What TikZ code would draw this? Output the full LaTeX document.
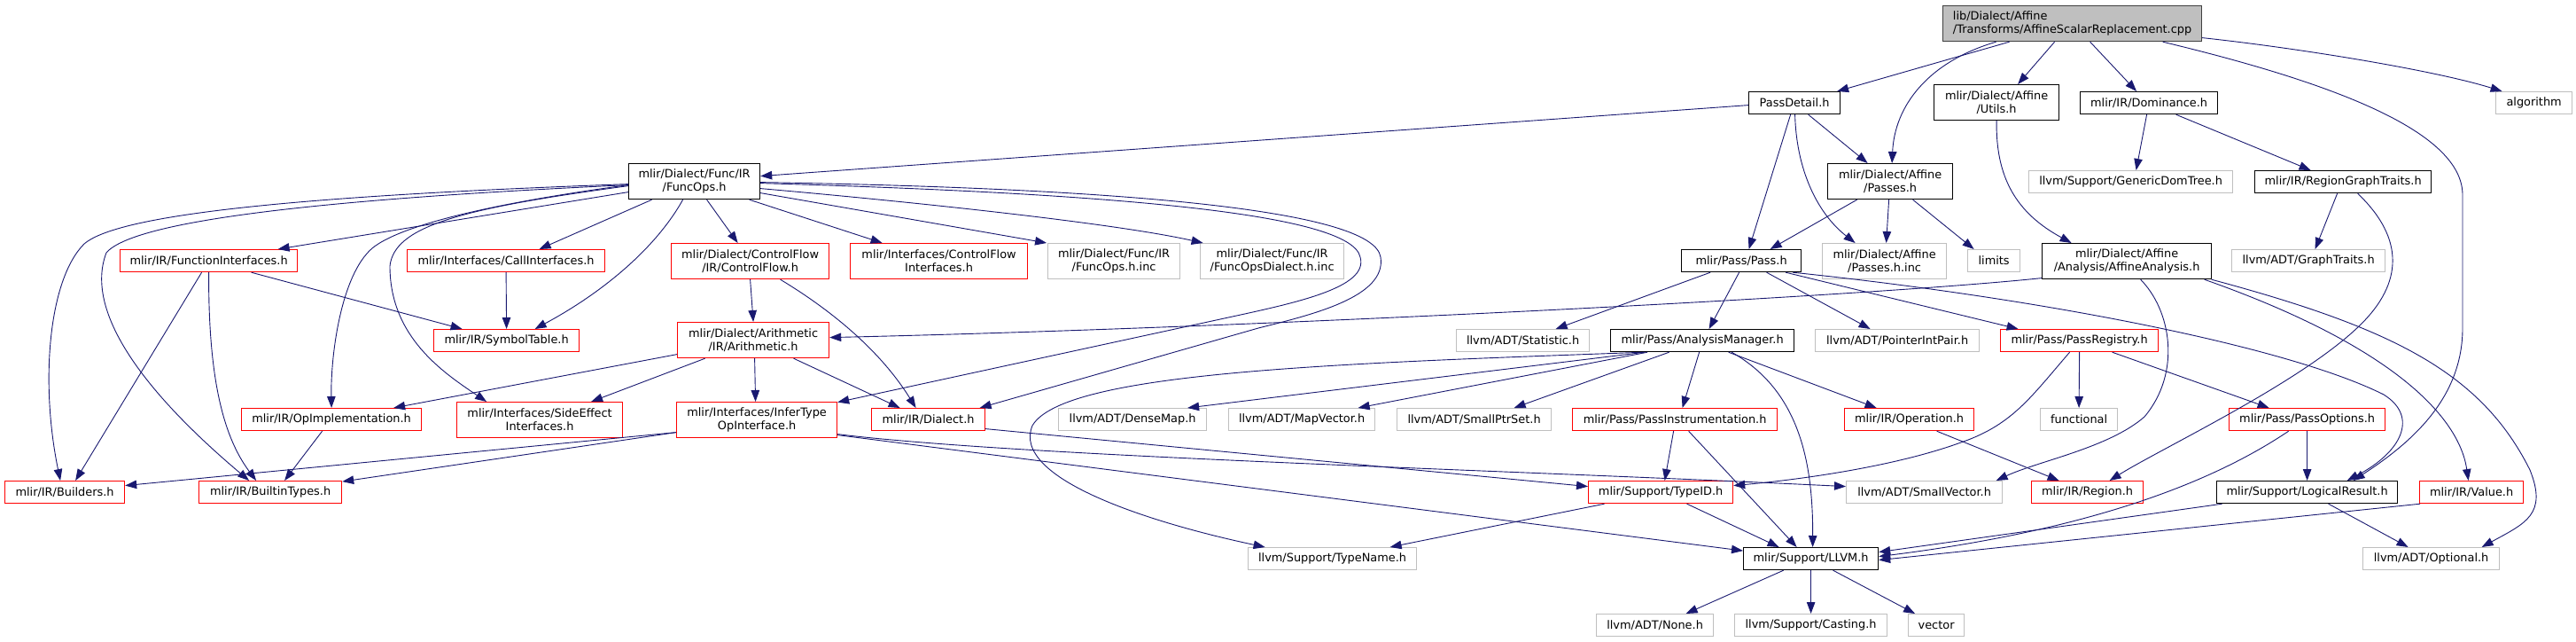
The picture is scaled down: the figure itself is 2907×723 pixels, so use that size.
\documentclass[tikz,border=0pt]{standalone}
\usepackage{fontspec}
\setmainfont{DejaVu Sans}
\usetikzlibrary{arrows.meta}
\definecolor{edgeblue}{HTML}{191970}
\definecolor{grayline}{HTML}{BFBFBF}
\definecolor{rootfill}{HTML}{BFBFBF}
\definecolor{redline}{HTML}{FF0000}
\newcommand{\nodefnt}{\fontsize{12.9}{15}\selectfont}
\tikzset{
  nd/.style={draw, line width=1.2pt, inner sep=0pt, font=\nodefnt, align=center, anchor=north west, text=black},
  blk/.style={nd, draw=black},
  rootbox/.style={nd, draw=black!75, fill=rootfill, align=left},
  rdn/.style={nd, draw=redline},
  gry/.style={nd, draw=grayline},
  e/.style={draw=edgeblue, line width=0.9pt, -{Triangle[length=13pt,width=9.5pt]}}
}
\begin{document}
\begin{tikzpicture}[x=1pt,y=-1pt]
\useasboundingbox (0,0) rectangle (2907,723);
% nodes
\node[rootbox, minimum width=292pt, minimum height=40pt] (root) at (2192,6) {lib/Dialect/Affine\\/Transforms/AffineScalarReplacement.cpp};
\node[blk, minimum width=103pt, minimum height=25pt] (pd) at (1973,103) {PassDetail.h};
\node[blk, minimum width=141pt, minimum height=40pt] (utils) at (2182,95) {mlir/Dialect/Affine\\/Utils.h};
\node[blk, minimum width=155pt, minimum height=25pt] (dom) at (2347,103) {mlir/IR/Dominance.h};
\node[gry, minimum width=86pt, minimum height=25pt] (algo) at (2816,103) {algorithm};
\node[blk, minimum width=148pt, minimum height=40pt] (funcops) at (709,184) {mlir/Dialect/Func/IR\\/FuncOps.h};
\node[blk, minimum width=141pt, minimum height=40pt] (passes) at (2062,184) {mlir/Dialect/Affine\\/Passes.h};
\node[gry, minimum width=230pt, minimum height=25pt] (gdt) at (2289,192) {llvm/Support/GenericDomTree.h};
\node[blk, minimum width=199pt, minimum height=25pt] (rgt) at (2544,192) {mlir/IR/RegionGraphTraits.h};
\node[rdn, minimum width=200pt, minimum height=25pt] (fi) at (135,281) {mlir/IR/FunctionInterfaces.h};
\node[rdn, minimum width=223pt, minimum height=25pt] (ci) at (459,281) {mlir/Interfaces/CallInterfaces.h};
\node[rdn, minimum width=178pt, minimum height=40pt] (cf) at (757,274) {mlir/Dialect/ControlFlow\\/IR/ControlFlow.h};
\node[rdn, minimum width=200pt, minimum height=40pt] (cfi) at (959,274) {mlir/Interfaces/ControlFlow\\Interfaces.h};
\node[gry, minimum width=149pt, minimum height=40pt] (finc) at (1182,274) {mlir/Dialect/Func/IR\\/FuncOps.h.inc};
\node[gry, minimum width=162pt, minimum height=40pt] (fdinc) at (1354,274) {mlir/Dialect/Func/IR\\/FuncOpsDialect.h.inc};
\node[blk, minimum width=135pt, minimum height=25pt] (pass) at (1897,281) {mlir/Pass/Pass.h};
\node[gry, minimum width=140pt, minimum height=40pt] (pinc) at (2056,274) {mlir/Dialect/Affine\\/Passes.h.inc};
\node[gry, minimum width=59pt, minimum height=25pt] (limits) at (2220,281) {limits};
\node[blk, minimum width=191pt, minimum height=40pt] (aa) at (2304,274) {mlir/Dialect/Affine\\/Analysis/AffineAnalysis.h};
\node[gry, minimum width=173pt, minimum height=25pt] (gt) at (2518,281) {llvm/ADT/GraphTraits.h};
\node[rdn, minimum width=171pt, minimum height=40pt] (arith) at (764,363) {mlir/Dialect/Arithmetic\\/IR/Arithmetic.h};
\node[rdn, minimum width=164pt, minimum height=25pt] (st) at (489,371) {mlir/IR/SymbolTable.h};
\node[gry, minimum width=150pt, minimum height=25pt] (stat) at (1643,371) {llvm/ADT/Statistic.h};
\node[blk, minimum width=207pt, minimum height=25pt] (am) at (1817,371) {mlir/Pass/AnalysisManager.h};
\node[gry, minimum width=185pt, minimum height=25pt] (pip) at (2048,371) {llvm/ADT/PointerIntPair.h};
\node[rdn, minimum width=178pt, minimum height=25pt] (preg) at (2257,371) {mlir/Pass/PassRegistry.h};
\node[rdn, minimum width=203pt, minimum height=25pt] (opi) at (272,460) {mlir/IR/OpImplementation.h};
\node[rdn, minimum width=187pt, minimum height=40pt] (se) at (515,453) {mlir/Interfaces/SideEffect\\Interfaces.h};
\node[rdn, minimum width=181pt, minimum height=40pt] (it) at (763,453) {mlir/Interfaces/InferType\\OpInterface.h};
\node[rdn, minimum width=128pt, minimum height=25pt] (dia) at (983,460) {mlir/IR/Dialect.h};
\node[gry, minimum width=167pt, minimum height=25pt] (dm) at (1194,460) {llvm/ADT/DenseMap.h};
\node[gry, minimum width=165pt, minimum height=25pt] (mv) at (1386,460) {llvm/ADT/MapVector.h};
\node[gry, minimum width=174pt, minimum height=25pt] (sps) at (1576,460) {llvm/ADT/SmallPtrSet.h};
\node[rdn, minimum width=231pt, minimum height=25pt] (pi) at (1774,460) {mlir/Pass/PassInstrumentation.h};
\node[rdn, minimum width=146pt, minimum height=25pt] (op) at (2081,460) {mlir/IR/Operation.h};
\node[gry, minimum width=87pt, minimum height=25pt] (func) at (2302,460) {functional};
\node[rdn, minimum width=176pt, minimum height=25pt] (popt) at (2515,460) {mlir/Pass/PassOptions.h};
\node[rdn, minimum width=135pt, minimum height=25pt] (bld) at (5,542) {mlir/IR/Builders.h};
\node[rdn, minimum width=161pt, minimum height=25pt] (bt) at (224,542) {mlir/IR/BuiltinTypes.h};
\node[rdn, minimum width=163pt, minimum height=25pt] (tid) at (1792,542) {mlir/Support/TypeID.h};
\node[gry, minimum width=176pt, minimum height=25pt] (sv) at (2083,542) {llvm/ADT/SmallVector.h};
\node[rdn, minimum width=126pt, minimum height=25pt] (reg) at (2292,542) {mlir/IR/Region.h};
\node[blk, minimum width=204pt, minimum height=25pt] (lr) at (2501,542) {mlir/Support/LogicalResult.h};
\node[rdn, minimum width=117pt, minimum height=25pt] (val) at (2730,542) {mlir/IR/Value.h};
\node[gry, minimum width=190pt, minimum height=25pt] (tn) at (1408,617) {llvm/Support/TypeName.h};
\node[blk, minimum width=152pt, minimum height=25pt] (llvm) at (1967,617) {mlir/Support/LLVM.h};
\node[gry, minimum width=154pt, minimum height=25pt] (opt) at (2666,617) {llvm/ADT/Optional.h};
\node[gry, minimum width=132pt, minimum height=25pt] (none) at (1801,692) {llvm/ADT/None.h};
\node[gry, minimum width=172pt, minimum height=25pt] (cast) at (1957,692) {llvm/Support/Casting.h};
\node[gry, minimum width=63pt, minimum height=25pt] (vec) at (2153,692) {vector};
% root edges
\draw[e] ([xshift=-71pt]root.south) -- ([xshift=48pt]pd.north);
\draw[e] ([xshift=-86pt]root.south) .. controls (2175,70) and (2138,120) .. ([xshift=2pt]passes.north);
\draw[e] ([xshift=-20pt]root.south) -- ([xshift=24pt]utils.north);
\draw[e] ([xshift=20pt]root.south) -- ([xshift=-14pt]dom.north);
\draw[e] ([yshift=-16pt]root.east) .. controls (2600,55) and (2750,80) .. ([xshift=-36pt]algo.north);
\draw[e] ([xshift=102pt]root.south) .. controls (2640,95) and (2779,150) .. (2779,220) -- (2779,370) .. controls (2779,450) and (2720,500) .. ([xshift=52pt]lr.north);
% PassDetail
\draw[e] ([yshift=-2.5pt]pd.west) -- ([yshift=6pt]funcops.east);
\draw[e] ([xshift=15.5pt]pd.south) -- ([xshift=-25.5pt]passes.north);
\draw[e] ([xshift=-4.5pt]pd.south) -- ([xshift=8.5pt]pass.north);
\draw[e] ([xshift=0.5pt]pd.south) .. controls (2027,190) and (2050,240) .. ([xshift=-33pt]pinc.north);
% Passes.h
\draw[e] ([xshift=-37.5pt]passes.south) -- ([xshift=32.5pt]pass.north);
\draw[e] ([xshift=-1.5pt]passes.south) -- ([xshift=2pt]pinc.north);
\draw[e] ([xshift=25.5pt]passes.south) -- ([xshift=-22.5pt]limits.north);
% Utils, Dominance, RegionGraphTraits
\draw[e] (utils.south) .. controls (2252,200) and (2275,240) .. ([xshift=-62.5pt]aa.north);
\draw[e] ([xshift=-2.5pt]dom.south) -- ([xshift=6pt]gdt.north);
\draw[e] ([xshift=30.5pt]dom.south) -- ([xshift=-36.5pt]rgt.north);
\draw[e] ([xshift=-6.5pt]rgt.south) -- ([xshift=7.5pt]gt.north);
\draw[e] ([xshift=16.5pt]rgt.south) .. controls (2715,270) and (2710,320) .. (2665,365) .. controls (2600,430) and (2440,505) .. ([xshift=25pt]reg.north);
% AffineAnalysis
\draw[e] ([yshift=-19pt]aa.west) .. controls (2100,335) and (1400,370) .. ([yshift=3pt]arith.east);
\draw[e] ([xshift=15.5pt]aa.south) .. controls (2450,350) and (2462,420) .. (2420,470) .. controls (2380,505) and (2300,520) .. ([xshift=81pt]sv.north);
\draw[e] ([xshift=87.5pt]aa.south) .. controls (2700,390) and (2775,470) .. ([xshift=-3.5pt]val.north);
\draw[e] ([xshift=95.5pt]aa.south) .. controls (2700,370) and (2800,420) .. (2855,530) .. controls (2875,580) and (2850,590) .. ([xshift=57pt]opt.north);
% Pass.h
\draw[e] ([xshift=-2.5pt]pass.south) -- ([xshift=7.5pt]am.north);
\draw[e] ([xshift=-35pt]pass.south) -- ([xshift=37pt]stat.north);
\draw[e] ([xshift=28.5pt]pass.south) -- ([xshift=-30.5pt]pip.north);
\draw[e] ([xshift=50pt]pass.south) -- ([xshift=-69pt]preg.north);
\draw[e] ([xshift=58pt]pass.south) .. controls (2300,336) and (2580,390) .. (2690,445) .. controls (2730,470) and (2710,510) .. ([xshift=45pt]lr.north);
% AnalysisManager
\draw[e] ([xshift=-65pt]am.south) -- ([xshift=62pt]dm.north);
\draw[e] ([xshift=-62pt]am.south) -- ([xshift=63.5pt]mv.north);
\draw[e] ([xshift=-37.5pt]am.south) -- ([xshift=45pt]sps.north);
\draw[e] ([xshift=-3.5pt]am.south) -- ([xshift=8.5pt]pi.north);
\draw[e] ([xshift=29.5pt]am.south) -- ([xshift=-37pt]op.north);
\draw[e] ([xshift=33pt]am.south) .. controls (2030,440) and (2046,520) .. ([xshift=2pt]llvm.north);
\draw[e] ([xshift=-66pt]am.south) .. controls (1500,410) and (1200,420) .. (1165,480) .. controls (1140,540) and (1300,590) .. ([xshift=-76pt]tn.north);
% PassInstrumentation, Operation, PassRegistry, PassOptions
\draw[e] ([xshift=-1.5pt]pi.south) -- ([xshift=4.5pt]tid.north);
\draw[e] ([xshift=15.5pt]pi.south) -- ([xshift=-16pt]llvm.north);
\draw[e] ([xshift=31pt]op.south) -- ([xshift=-32pt]reg.north);
\draw[e] (preg.south) -- (func.north);
\draw[e] ([xshift=37pt]preg.south) -- ([xshift=-43pt]popt.north);
\draw[e] ([xshift=-11pt]preg.south) .. controls (2290,450) and (2270,480) .. (2210,500) .. controls (2140,525) and (2040,540) .. ([yshift=7.5pt]tid.east);
\draw[e] (popt.south) -- (lr.north);
\draw[e] ([xshift=-21pt]popt.south) .. controls (2510,535) and (2380,595) .. ([yshift=2.5pt]llvm.east);
% LogicalResult, Value, TypeID, LLVM
\draw[e] ([xshift=-96pt]lr.south) -- ([yshift=7.5pt]llvm.east);
\draw[e] ([xshift=24pt]lr.south) -- ([xshift=-26pt]opt.north);
\draw[e] ([xshift=-58pt]val.south) -- ([yshift=-1.5pt]llvm.east);
\draw[e] ([xshift=-63.5pt]tid.south) -- ([xshift=65pt]tn.north);
\draw[e] ([xshift=29.5pt]tid.south) -- ([xshift=-36pt]llvm.north);
\draw[e] ([xshift=-31pt]llvm.south) -- ([xshift=35pt]none.north);
\draw[e] (llvm.south) -- (cast.north);
\draw[e] ([xshift=25pt]llvm.south) -- ([xshift=-24pt]vec.north);
% FuncOps.h
\draw[e] ([yshift=-12pt]funcops.west) -- ([xshift=78pt]fi.north);
\draw[e] ([xshift=-48pt]funcops.south) -- ([xshift=37.5pt]ci.north);
\draw[e] ([xshift=-13pt]funcops.south) .. controls (740,280) and (680,330) .. ([xshift=32pt]st.north);
\draw[e] ([xshift=14pt]funcops.south) -- ([xshift=-14pt]cf.north);
\draw[e] ([xshift=62pt]funcops.south) -- ([xshift=-64pt]cfi.north);
\draw[e] ([yshift=-13pt]funcops.east) -- ([xshift=-76pt]finc.north);
\draw[e] ([yshift=-8pt]funcops.east) .. controls (1000,225) and (1250,250) .. ([xshift=-78pt]fdinc.north);
\draw[e] ([yshift=-2pt]funcops.east) .. controls (1250,218) and (1525,240) .. (1535,290) .. controls (1545,325) and (1460,342) .. (1377,360) -- ([yshift=20pt]it.east);
\draw[e] ([yshift=-1pt]funcops.east) .. controls (1250,212) and (1550,235) .. (1558,290) .. controls (1565,335) and (1480,355) .. (1420,370) -- ([xshift=58pt]dia.north);
\draw[e] ([yshift=-3pt]funcops.west) .. controls (300,222) and (130,245) .. (95,275) .. controls (55,315) and (45,430) .. ([xshift=-5pt]bld.north);
\draw[e] ([yshift=-4pt]funcops.west) .. controls (350,225) and (150,250) .. (120,285) .. controls (95,350) and (160,440) .. ([xshift=-24pt]bt.north);
\draw[e] ([yshift=-4pt]funcops.west) .. controls (550,230) and (450,255) .. (420,280) .. controls (385,310) and (373,400) .. (opi.north);
\draw[e] ([yshift=-5pt]funcops.west) .. controls (520,235) and (445,255) .. (440,300) .. controls (440,380) and (500,420) .. ([xshift=-60pt]se.north);
% FunctionInterfaces, CallInterfaces, OpImplementation
\draw[e] ([xshift=48pt]fi.south) -- ([xshift=-50pt]st.north);
\draw[e] ([xshift=-8pt]fi.south) -- ([xshift=12pt]bld.north);
\draw[e] (fi.south) .. controls (235,420) and (250,490) .. ([xshift=-16pt]bt.north);
\draw[e] (ci.south) -- (st.north);
\draw[e] ([xshift=-10.5pt]opi.south) -- ([xshift=16pt]bt.north);
% ControlFlow, Arithmetic
\draw[e] (cf.south) -- (arith.north);
\draw[e] ([xshift=34pt]cf.south) .. controls (930,345) and (990,390) .. ([xshift=-14pt]dia.north);
\draw[e] ([yshift=-16pt]arith.west) -- ([xshift=70pt]opi.north);
\draw[e] ([xshift=-54.5pt]arith.south) -- ([xshift=58pt]se.north);
\draw[e] ([xshift=1.5pt]arith.south) -- ([xshift=-1.5pt]it.north);
\draw[e] ([xshift=45.5pt]arith.south) -- ([xshift=-32pt]dia.north);
% InferTypeOpInterface, Dialect
\draw[e] ([yshift=-14pt]it.west) -- ([yshift=7.5pt]bld.east);
\draw[e] ([yshift=-14pt]it.west) -- ([yshift=12pt]bt.east);
\draw[e] ([yshift=-16pt]it.east) .. controls (1150,515) and (1700,530) .. ([yshift=6.5pt]sv.west);
\draw[e] ([yshift=-17pt]it.east) -- ([yshift=9pt]llvm.west);
\draw[e] ([yshift=-10.5pt]dia.east) -- ([yshift=6.5pt]tid.west);
\end{tikzpicture}
\end{document}
